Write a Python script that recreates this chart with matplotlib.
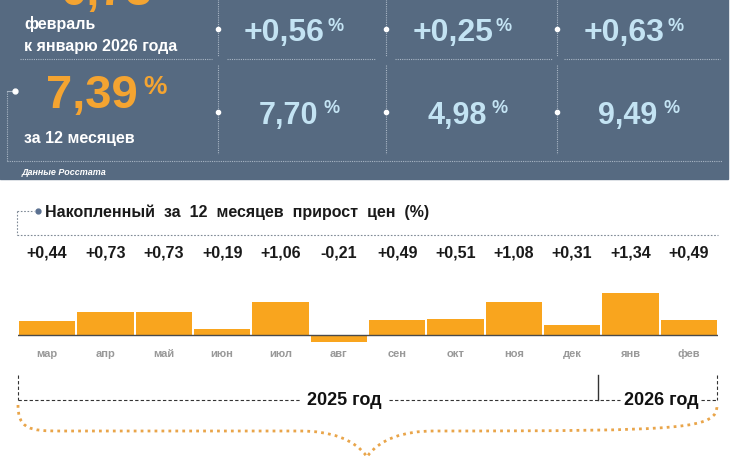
import matplotlib
matplotlib.use("Agg")
import matplotlib.pyplot as plt
import matplotlib.transforms as mtransforms
from matplotlib.path import Path
import matplotlib.patches as mpatches

plt.rcParams['font.family'] = ['Liberation Sans', 'DejaVu Sans']

# --- data ---
months = ['мар', 'апр', 'май', 'июн', 'июл', 'авг',
          'сен', 'окт', 'ноя', 'дек', 'янв', 'фев']
growth = [0.44, 0.73, 0.73, 0.19, 1.06, -0.21,
          0.49, 0.51, 1.08, 0.31, 1.34, 0.49]
growth_labels = ['+0,44', '+0,73', '+0,73', '+0,19', '+1,06', '-0,21',
                 '+0,49', '+0,51', '+1,08', '+0,31', '+1,34', '+0,49']
row1_values = ['+0,56', '+0,25', '+0,63']
row2_values = ['7,70', '4,98', '9,49']
main_month = '0,73'
main_year = '7,39'

PANEL = '#566a81'
LBLUE = '#c3e3f3'
ORANGE = '#f4a431'
BAR = '#f9a51e'
GRID = '#a9b6c5'

W, H = 730, 460
fig = plt.figure(figsize=(W / 100, H / 100), dpi=100)
fig.patch.set_facecolor('white')

# overlay axes in pixel coordinates
ov = fig.add_axes([0, 0, 1, 1])
ov.set_xlim(0, W)
ov.set_ylim(H, 0)
ov.axis('off')

# top panel
ov.add_patch(mpatches.Rectangle((0, 0), 728, 180, color=PANEL, zorder=0))

# panel grid
for x0, x1 in [(20, 212), (227, 375), (395, 552), (564, 720)]:
    ov.plot([x0, x1], [60, 60], color=GRID, lw=0.8, ls=(0, (1, 1)))
ov.plot([7, 722], [162, 162], color=GRID, lw=0.8, ls=(0, (1, 1)))
for x in [218, 386, 557]:
    ov.plot([x, x], [0, 57], color=GRID, lw=0.8, ls=(0, (1, 1)))
    ov.plot([x, x], [66, 155], color=GRID, lw=0.8, ls=(0, (1, 1)))
    ov.plot([x, x], [30, 113], ls='none', marker='o', ms=3, color='white')
ov.plot([7, 15], [92, 92], color=GRID, lw=0.8)
ov.plot([7, 7], [92, 162], color=GRID, lw=0.8, ls=(0, (1, 1)))
ov.plot([15], [92], marker='o', ms=3.5, color='white')

# left texts (the top orange value is cropped by the picture edge, as in the source)
ov.text(60, 5, main_month, color=ORANGE, fontsize=34, fontweight='bold', va='baseline')
ov.text(24, 29, 'февраль', color='white', fontsize=11.5, fontweight='bold', va='baseline')
ov.text(24, 51, 'к январю 2026 года', color='white', fontsize=11.5, fontweight='bold', va='baseline')
ov.text(46, 108, main_year, color=ORANGE, fontsize=34, fontweight='bold', va='baseline')
ov.text(143, 94, '%', color=ORANGE, fontsize=19, fontweight='bold', va='baseline')
ov.text(24, 143, 'за 12 месяцев', color='white', fontsize=11.5, fontweight='bold', va='baseline')
ov.text(22, 175, 'Данные Росстата', color='white', fontsize=6.5, fontweight='bold',
        style='italic', va='baseline')

# value cells
centers = [292, 461, 632]
for cx, v in zip(centers, row1_values):
    ov.text(cx - 8, 41, v, color=LBLUE, fontsize=23, fontweight='bold',
            ha='center', va='baseline')
    ov.text(cx + 35, 31, '%', color=LBLUE, fontsize=13, fontweight='bold', va='baseline')
for cx, v in zip(centers, row2_values):
    ov.text(cx - 4, 124, v, color=LBLUE, fontsize=22, fontweight='bold',
            ha='center', va='baseline')
    ov.text(cx + 31, 113, '%', color=LBLUE, fontsize=13, fontweight='bold', va='baseline')

# chart title with dotted bracket
ov.plot([17, 34], [212, 212], color='#7f8a96', lw=0.8, ls=(0, (1.5, 1.5)))
ov.plot([17, 17], [212, 236], color='#7f8a96', lw=0.8, ls=(0, (1.5, 1.5)))
ov.plot([17, 718], [236, 236], color='#7f8a96', lw=0.8, ls=(0, (1.5, 1.5)))
ov.plot([38], [212], marker='o', ms=3.5, color='#5a7090')
ov.text(45, 212, 'Накопленный  за  12  месяцев  прирост  цен  (%)', color='#1a1a1a',
        fontsize=11.5, fontweight='bold', va='center')

# bar chart axes: baseline at y=336 px, ~31 px per 1 p.p.
px_per_unit = 31.0
y_lo, y_hi = -0.4, 1.5
bottom_px = 336 - y_lo * px_per_unit
top_px = 336 - y_hi * px_per_unit
ax = fig.add_axes([18 / W, 1 - bottom_px / H, 700 / W, (bottom_px - top_px) / H])
ax.set_xlim(-0.5, len(months) - 0.5)
ax.set_ylim(y_lo, y_hi)
ax.axis('off')
ax.patch.set_alpha(0)
x = range(len(months))
ax.bar(x, growth, width=0.965, color=BAR, zorder=2)
ax.axhline(0, color='#4a4a4a', lw=1, zorder=3)

blend = mtransforms.blended_transform_factory(ax.transData, fig.transFigure)
for i, (lab, m) in enumerate(zip(growth_labels, months)):
    ax.text(i, 1 - 253 / H, lab, transform=blend, ha='center', va='center',
            fontsize=11.5, fontweight='bold', color='#1a1a1a')
    ax.text(i, 1 - 354 / H, m, transform=blend, ha='center', va='center',
            fontsize=8, fontweight='bold', color='#999999')

# year brackets
dash = (0, (3, 2))
ov.plot([18, 18], [376, 401], color='#333333', lw=0.8, ls=dash)
ov.plot([18, 300], [401, 401], color='#333333', lw=0.8, ls=dash)
ov.text(344, 401, '2025 год', fontsize=13, fontweight='bold', color='#111111',
        ha='center', va='center')
ov.plot([389, 620], [401, 401], color='#333333', lw=0.8, ls=dash)
ov.plot([598, 598], [376, 401], color='#333333', lw=1)
ov.text(661, 401, '2026 год', fontsize=13, fontweight='bold', color='#111111',
        ha='center', va='center')
ov.plot([701, 717], [401, 401], color='#333333', lw=0.8, ls=dash)
ov.plot([717, 717], [376, 401], color='#333333', lw=0.8, ls=dash)

# orange dotted curly brace
verts = [(18, 406), (18, 430), (30, 432), (60, 432),
         (300, 432), (330, 432), (355, 440), (367, 458),
         (379, 440), (404, 432), (434, 432),
         (690, 432), (717, 430), (717, 406)]
codes = [Path.MOVETO, Path.CURVE4, Path.CURVE4, Path.CURVE4,
         Path.LINETO, Path.CURVE4, Path.CURVE4, Path.CURVE4,
         Path.CURVE4, Path.CURVE4, Path.CURVE4,
         Path.CURVE4, Path.CURVE4, Path.CURVE4]
ov.add_patch(mpatches.PathPatch(Path(verts, codes), fill=False, edgecolor='#e9a54a',
                                lw=2, ls=(0, (1, 1.5))))

fig.savefig('out.png', dpi=100)
